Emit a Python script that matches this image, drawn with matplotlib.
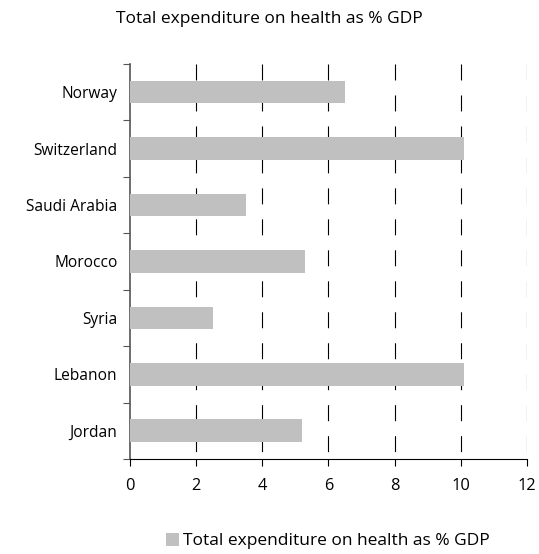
import numpy as np
import matplotlib.pyplot as plt
from matplotlib.patches import Patch

# health spending data
countries = ["Norway", "Switzerland", "Saudi Arabia", "Morocco", "Syria", "Lebanon", "Jordan"]
spend_pct_gdp = [6.5, 10.1, 3.5, 5.3, 2.5, 10.1, 5.2]
series_name = "Total expenditure on health as % GDP"
x_ticks = [0, 2, 4, 6, 8, 10, 12]

plt.rcParams['font.family'] = ['Open Sans', 'DejaVu Sans']
plt.rcParams['lines.scale_dashes'] = False

fig = plt.figure(figsize=(5.39, 5.54), dpi=100)
ax = fig.add_axes([0.2412, 0.1715, 0.7365, 0.713])

ypos = np.arange(len(countries))
ax.barh(ypos, spend_pct_gdp, height=0.4, color="#C0C0C0", zorder=3)

ax.set_ylim(len(countries) - 0.5, -0.5)
ax.set_xlim(0, 12)

# dashed gridlines drawn top-down so the dash starts at the top
ax.vlines(x_ticks[1:], -0.5, len(countries) - 0.5, colors="black",
          linewidth=0.8, linestyles=(0, (11.5, 10.8)), zorder=1)

# y axis: labels at the centres, tick marks at the boundaries
ax.set_yticks(ypos)
ax.set_yticklabels(countries, fontsize=11.2)
ax.tick_params(axis="y", which="major", length=0, pad=9)
ax.set_yticks(np.arange(-0.5, len(countries)), minor=True)
ax.tick_params(axis="y", which="minor", length=5, width=0.8, color="#555555", direction="out")

ax.set_xticks(x_ticks)
ax.set_xticklabels([str(t) for t in x_ticks], fontsize=11.8)
ax.tick_params(axis="x", length=5, width=0.8, direction="out", pad=9)

ax.spines["top"].set_visible(False)
ax.spines["right"].set_visible(False)
ax.spines["left"].set_color("#555555")
ax.spines["left"].set_linewidth(1.2)
ax.spines["bottom"].set_linewidth(0.8)

fig.text(0.5, 1 - 19 / 554, series_name, ha="center", va="center", fontsize=12.5)

fig.legend(handles=[Patch(facecolor="#C0C0C0", label=series_name)],
           loc="center", bbox_to_anchor=(0.608, 1 - 541 / 554), frameon=False,
           fontsize=12.5, handlelength=0.75, handleheight=0.75, handletextpad=0.25,
           borderpad=0)

plt.savefig("out.png", dpi=100)
